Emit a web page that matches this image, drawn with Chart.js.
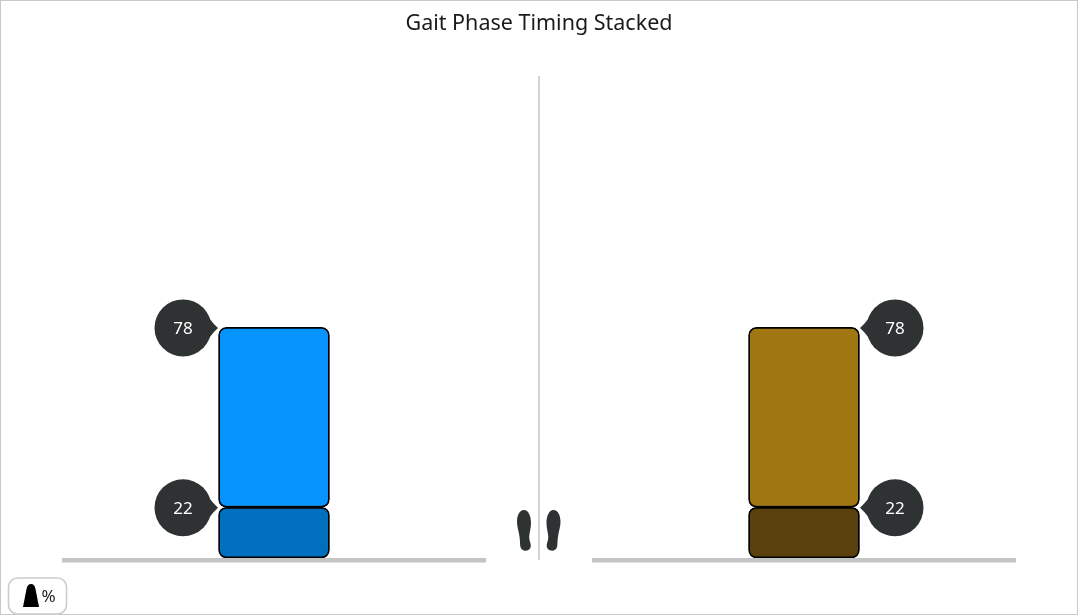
<!DOCTYPE html>
<html>
<head>
<meta charset="utf-8">
<style>html,body{margin:0;padding:0;background:#fff;overflow:hidden}canvas{display:block}</style>
<script src="https://cdn.jsdelivr.net/npm/chart.js@4"></script>
</head>
<body>
<canvas id="c" width="1078" height="615"></canvas>
<script>
const titleText = 'Gait Phase Timing Stacked';
const categories = ['Left', 'Right'];
const lowerPhase = [22, 22];
const upperPhase = [78, 78];
const unitLabel = '%';
const FONT = '"Noto Sans", sans-serif';
const INK = '#2e3233';

function drawFoot(ctx, cx, top, flip) {
  ctx.save();
  ctx.translate(cx, top);
  ctx.scale(flip ? -1 : 1, 1);
  ctx.fillStyle = INK;
  ctx.beginPath();
  ctx.moveTo(0, 0);
  ctx.bezierCurveTo(4.5, 0, 7, 6, 7, 13);
  ctx.bezierCurveTo(7, 19, 5.2, 23, 5.2, 27);
  ctx.bezierCurveTo(5.2, 31, 7, 33, 6.8, 36);
  ctx.bezierCurveTo(6.5, 42, -3, 42.5, -3.8, 36);
  ctx.bezierCurveTo(-4, 32, -4, 30, -4.6, 26);
  ctx.bezierCurveTo(-5.2, 21, -7, 17, -7, 12);
  ctx.bezierCurveTo(-7, 5, -4.5, 0, 0, 0);
  ctx.closePath();
  ctx.fill();
  ctx.restore();
}

const decorations = {
  id: 'decorations',
  beforeDatasetsDraw(chart) {
    const { ctx, chartArea: a, scales: { x, y } } = chart;
    const mid = (a.left + a.right) / 2;
    const base = y.getPixelForValue(0);
    ctx.save();
    ctx.strokeStyle = '#c8c8c8';
    ctx.lineWidth = 1;
    ctx.strokeRect(0.5, 0.5, chart.width - 1, chart.height - 1);
    ctx.strokeStyle = '#bdbdbd';
    ctx.lineWidth = 1.3;
    ctx.beginPath();
    ctx.moveTo(mid, a.top);
    ctx.lineTo(mid, base + 2);
    ctx.stroke();
    ctx.fillStyle = '#c4c4c4';
    categories.forEach((_, i) => {
      const cx = x.getPixelForValue(i);
      ctx.fillRect(cx - 212, base, 424, 4.5);
    });
    ctx.restore();
    drawFoot(ctx, mid - 15, base - 48, false);
    drawFoot(ctx, mid + 14.5, base - 48, true);
  },
  afterDatasetsDraw(chart) {
    const { ctx } = chart;
    chart.data.datasets.forEach((ds, di) => {
      chart.getDatasetMeta(di).data.forEach((el, i) => {
        const side = i === 0 ? -1 : 1;
        const edge = el.x + side * el.width / 2;
        const cx = edge + side * 35.5;
        const cy = el.y + 0.5;
        ctx.save();
        ctx.fillStyle = INK;
        ctx.beginPath();
        ctx.arc(cx, cy, 28.5, 0, Math.PI * 2);
        ctx.fill();
        ctx.beginPath();
        ctx.moveTo(edge + side * 0.5, cy);
        ctx.quadraticCurveTo(cx - side * 26, cy - 8, cx - side * 20, cy - 20.5);
        ctx.lineTo(cx - side * 20, cy + 20.5);
        ctx.quadraticCurveTo(cx - side * 26, cy + 8, edge + side * 0.5, cy);
        ctx.closePath();
        ctx.fill();
        ctx.fillStyle = '#ffffff';
        ctx.font = '17px ' + FONT;
        ctx.textAlign = 'center';
        ctx.textBaseline = 'middle';
        ctx.fillText(String(ds.data[i][1] - ds.data[i][0]), cx, cy + 1);
        ctx.restore();
      });
    });
    // unit toggle
    ctx.save();
    ctx.strokeStyle = '#cccccc';
    ctx.lineWidth = 1.6;
    ctx.fillStyle = '#fff';
    ctx.beginPath();
    ctx.roundRect(8.5, 578, 58, 36, 9);
    ctx.fill();
    ctx.stroke();
    ctx.fillStyle = '#000';
    ctx.beginPath();
    ctx.moveTo(23, 607);
    ctx.lineTo(39, 607);
    ctx.lineTo(35.5, 589);
    ctx.quadraticCurveTo(34.5, 584, 31, 584);
    ctx.quadraticCurveTo(27.5, 584, 26.5, 589);
    ctx.closePath();
    ctx.fill();
    ctx.fillStyle = '#222';
    ctx.font = '17px ' + FONT;
    ctx.textAlign = 'left';
    ctx.textBaseline = 'middle';
    ctx.fillText(unitLabel, 41.5, 597);
    ctx.restore();
  }
};

const barStyle = { borderColor: '#000', borderWidth: 1.8, borderRadius: 8, borderSkipped: false, barThickness: 111, grouped: false };

new Chart(document.getElementById('c'), {
  type: 'bar',
  plugins: [decorations],
  data: {
    labels: categories,
    datasets: [
      { label: 'Lower phase', data: lowerPhase.map(v => [0, v]),
        backgroundColor: ['#006fbd', '#59400c'], ...barStyle },
      { label: 'Upper phase', data: upperPhase.map((v, i) => [lowerPhase[i], lowerPhase[i] + v]),
        backgroundColor: ['#0794ff', '#a07612'], ...barStyle }
    ]
  },
  options: {
    responsive: false,
    animation: false,
    layout: { padding: { left: 9, right: 9, bottom: 57, top: 0 } },
    plugins: {
      legend: { display: false },
      tooltip: { enabled: false },
      title: { display: true, text: titleText, color: '#1a1a1a',
        font: { family: FONT, size: 21.5, weight: 'normal' }, padding: { top: 11, bottom: 39.2 } }
    },
    scales: {
      x: { display: false },
      y: { display: false, min: 0, max: 209 }
    }
  }
});
</script>
</body>
</html>
